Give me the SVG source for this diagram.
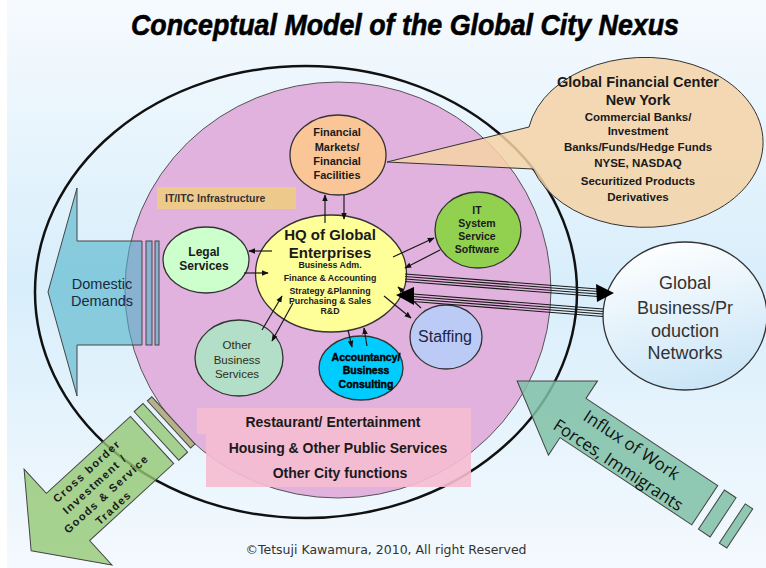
<svg xmlns="http://www.w3.org/2000/svg" width="766" height="568" viewBox="0 0 766 568">
<defs>
  <linearGradient id="bg" x1="0" y1="0" x2="0" y2="1">
    <stop offset="0" stop-color="#f6fafe"/>
    <stop offset="0.5" stop-color="#d8eefb"/>
    <stop offset="1" stop-color="#f4f9fe"/>
  </linearGradient>
  <linearGradient id="gbn" x1="0.3" y1="0" x2="0.6" y2="1">
    <stop offset="0" stop-color="#ffffff"/>
    <stop offset="1" stop-color="#c9e5f7"/>
  </linearGradient>
  <marker id="ah" viewBox="0 0 10 10" refX="9" refY="5" markerWidth="7" markerHeight="7" markerUnits="userSpaceOnUse" orient="auto">
    <path d="M0,1 L10,5 L0,9 z" fill="#111"/>
  </marker>
  <style>
    text { font-family: "Liberation Sans", Arial, sans-serif; fill: #1a1a1a; text-anchor: middle; }
    .b { font-weight: bold; }
    .node { stroke: #333; stroke-width: 1.3; }
    .conn line { stroke: #1a1a1a; stroke-width: 1.2; marker-end: url(#ah); }
    .bundle line { stroke: #1a1a1a; stroke-width: 1.1; }
    .bigarrow { stroke: #444; stroke-width: 1; }
  </style>
</defs>

<rect x="0" y="0" width="766" height="568" fill="#ffffff"/>
<rect x="7" y="0" width="759" height="568" fill="url(#bg)"/>

<g id="title">
  <text x="405" y="35" class="b" font-style="italic" font-size="30" textLength="548" lengthAdjust="spacingAndGlyphs" style="font-family:'Liberation Sans Narrow','Liberation Sans',Arial,sans-serif;fill:#000;stroke:#000;stroke-width:0.6">Conceptual Model of the Global City Nexus</text>
</g>

<g id="outer-city">
  <ellipse cx="306" cy="292" rx="271" ry="226" fill="none" stroke="#111" stroke-width="2.5"/>
</g>
<g id="inner-city">
  <ellipse cx="338" cy="290" rx="213" ry="208" fill="#e1b2dd" stroke="#555" stroke-width="1"/>
</g>

<g id="city-functions">
  <path d="M197,408 H471 V487 H206 V434 H197 Z" fill="#f6bcd0" opacity="0.9"/>
  <text x="333" y="427" class="b" font-size="14">Restaurant/ Entertainment</text>
  <text x="338" y="453" class="b" font-size="14">Housing &amp; Other Public Services</text>
  <text x="340" y="478" class="b" font-size="14">Other City functions</text>
</g>

<g id="it-infrastructure">
  <rect x="157" y="187" width="139" height="22" fill="#eec98c"/>
  <text x="165" y="202" class="b" font-size="10.5" style="text-anchor:start;fill:#333">IT/ITC  Infrastructure</text>
</g>

<g id="gfc-callout">
  <path d="M387,162 L529,127 A118,85 0 1 1 533,169 Z" fill="#f5d2a6" fill-opacity="0.85" stroke="#333" stroke-width="1"/>
  <text x="638" y="87" class="b" font-size="14.5">Global Financial Center</text>
  <text x="638" y="105" class="b" font-size="14.5">New York</text>
  <text x="638" y="121" class="b" font-size="11.5">Commercial Banks/</text>
  <text x="638" y="135" class="b" font-size="11.5">Investment</text>
  <text x="638" y="151" class="b" font-size="11.5">Banks/Funds/Hedge Funds</text>
  <text x="638" y="167" class="b" font-size="11.5">NYSE, NASDAQ</text>
  <text x="638" y="185" class="b" font-size="11.5">Securitized Products</text>
  <text x="638" y="201" class="b" font-size="11.5">Derivatives</text>
</g>

<g id="financial-markets">
  <ellipse class="node" cx="338" cy="155" rx="48" ry="40" fill="#fbc697"/>
  <text x="337" y="136" class="b" font-size="11">Financial</text>
  <text x="337" y="151" class="b" font-size="11">Markets/</text>
  <text x="337" y="165" class="b" font-size="11">Financial</text>
  <text x="337" y="179" class="b" font-size="11">Facilities</text>
</g>

<g id="hq">
  <ellipse class="node" cx="331" cy="273.5" rx="75.5" ry="58.5" fill="#ffff99" stroke-width="1.5"/>
  <text x="330" y="240" class="b" font-size="15">HQ of Global</text>
  <text x="330" y="258" class="b" font-size="15">Enterprises</text>
  <text x="330" y="268" class="b" font-size="8.8">Business Adm.</text>
  <text x="330" y="281" class="b" font-size="8.8">Finance &amp; Accounting</text>
  <text x="330" y="294" class="b" font-size="8.8">Strategy &amp;Planning</text>
  <text x="330" y="304" class="b" font-size="8.8">Purchasing &amp; Sales</text>
  <text x="330" y="314" class="b" font-size="8.8">R&amp;D</text>
</g>

<g id="legal">
  <ellipse class="node" cx="206" cy="260" rx="43" ry="33" fill="#ccffcc"/>
  <text x="204" y="256" class="b" font-size="12">Legal</text>
  <text x="204" y="270" class="b" font-size="12">Services</text>
</g>

<g id="it-system">
  <ellipse class="node" cx="478" cy="230" rx="43" ry="38" fill="#92d050"/>
  <text x="477" y="214" class="b" font-size="10.5">IT</text>
  <text x="477" y="227" class="b" font-size="10.5">System</text>
  <text x="477" y="240" class="b" font-size="10.5">Service</text>
  <text x="477" y="253" class="b" font-size="10.5">Software</text>
</g>

<g id="staffing">
  <ellipse class="node" cx="446" cy="337" rx="36" ry="32" fill="#bccbf5"/>
  <text x="445" y="342" font-size="16" style="fill:#1c2444">Staffing</text>
</g>

<g id="other-business">
  <ellipse class="node" cx="239" cy="358" rx="44" ry="38" fill="#b3dec8"/>
  <text x="237" y="349" font-size="11.5" style="fill:#2e2e14">Other</text>
  <text x="237" y="364" font-size="11.5" style="fill:#2e2e14">Business</text>
  <text x="237" y="378" font-size="11.5" style="fill:#2e2e14">Services</text>
</g>

<g id="accountancy">
  <ellipse class="node" cx="361" cy="368" rx="42" ry="32" fill="#00ccff" stroke="#1a2440" stroke-width="2"/>
  <text x="366" y="361" class="b" font-size="10.5" style="fill:#000;stroke:#000;stroke-width:0.4">Accountancy/</text>
  <text x="366" y="374" class="b" font-size="10.5" style="fill:#000;stroke:#000;stroke-width:0.4">Business</text>
  <text x="366" y="388" class="b" font-size="10.5" style="fill:#000;stroke:#000;stroke-width:0.4">Consulting</text>
</g>

<g id="global-networks">
  <ellipse class="node" cx="685" cy="316" rx="82" ry="74" fill="url(#gbn)" stroke-width="1.2"/>
  <text x="685" y="289" font-size="18" style="fill:#333">Global</text>
  <text x="685" y="314" font-size="18" style="fill:#333">Business/Pr</text>
  <text x="685" y="337" font-size="18" style="fill:#333">oduction</text>
  <text x="685" y="359" font-size="18" style="fill:#333">Networks</text>
</g>

<g id="domestic-demands">
  <path class="bigarrow" d="M48,292 L77,188 L77,241 L142,241 L142,345 L77,345 L77,396 Z" fill="#4fb2c9" fill-opacity="0.6"/>
  <rect class="bigarrow" x="146" y="241" width="6" height="104" fill="#4fb2c9" fill-opacity="0.6"/>
  <rect class="bigarrow" x="155" y="241" width="4" height="104" fill="#4fb2c9" fill-opacity="0.6"/>
  <text x="102" y="289" font-size="14.5" style="fill:#1e2840">Domestic</text>
  <text x="102" y="306" font-size="14.5" style="fill:#1e2840">Demands</text>
</g>

<g id="cross-border">
  <g transform="translate(68,517) rotate(137.5)">
    <path class="bigarrow" d="M50,0 L0,-65 L0,-32 L-114,-32 L-114,32 L0,32 L0,65 Z" fill="#93c873" fill-opacity="0.8"/>
    <rect class="bigarrow" x="-132" y="-33" width="12" height="66" fill="#93c873" fill-opacity="0.8"/>
    <rect class="bigarrow" x="-143" y="-32" width="6" height="64" fill="#b5b28a"/>
  </g>
  <g transform="translate(100,490) rotate(-42.5)">
    <text x="3" y="-19" class="b" font-size="11" letter-spacing="1.5">Cross border</text>
    <text x="0" y="-4" class="b" font-size="11" letter-spacing="1.5">Investment /</text>
    <text x="2" y="11" class="b" font-size="11" letter-spacing="1.5">Goods &amp; Service</text>
    <text x="-2" y="26" class="b" font-size="11" letter-spacing="1.5">Trades</text>
  </g>
</g>

<g id="influx">
  <g transform="translate(573,418) rotate(213.5)">
    <path class="bigarrow" d="M67,0 L0,-44.5 L0,-23.5 L-158,-23.5 L-158,23.5 L0,23.5 L0,44.5 Z" fill="#7fbfa6" fill-opacity="0.85"/>
    <rect class="bigarrow" x="-180" y="-23.5" width="14" height="47" fill="#7fbfa6" fill-opacity="0.85"/>
    <rect class="bigarrow" x="-200" y="-23.5" width="9" height="47" fill="#7fbfa6" fill-opacity="0.85"/>
  </g>
  <g transform="translate(625,455) rotate(33.5)">
    <text x="0" y="-6" font-size="17" style="font-family:'Open Sans','Liberation Sans',sans-serif;fill:#111">Influx of Work</text>
    <text x="0" y="18" font-size="17" style="font-family:'Open Sans','Liberation Sans',sans-serif;fill:#111">Forces, Immigrants</text>
  </g>
</g>

<g id="connectors">
  <g class="conn">
    <line x1="325" y1="223" x2="325" y2="195"/>
    <line x1="344" y1="195" x2="344" y2="219"/>
    <line x1="272" y1="251" x2="249" y2="251"/>
    <line x1="244" y1="273" x2="268" y2="273"/>
    <line x1="393" y1="257" x2="434" y2="238"/>
    <line x1="440" y1="250" x2="405" y2="268"/>
    <line x1="384" y1="296" x2="411" y2="318"/>
    <line x1="421" y1="308" x2="398" y2="287"/>
    <line x1="262" y1="330" x2="282" y2="296"/>
    <line x1="293" y1="303" x2="272" y2="341"/>
    <line x1="348" y1="330" x2="352" y2="347"/>
    <line x1="367" y1="346" x2="364" y2="328"/>
  </g>
  <g class="bundle">
    <line x1="405" y1="274" x2="598" y2="289"/>
    <line x1="405" y1="276.5" x2="598" y2="291.5"/>
    <line x1="405" y1="279" x2="598" y2="294"/>
    <line x1="405" y1="281.5" x2="598" y2="296.5"/>
    <path d="M614,293 L596,284 L597,302 Z" fill="#000"/>
    <line x1="413" y1="294" x2="603" y2="309"/>
    <line x1="413" y1="296.5" x2="603" y2="311.5"/>
    <line x1="413" y1="299" x2="603" y2="314"/>
    <line x1="413" y1="301.5" x2="603" y2="316.5"/>
    <path d="M396,295 L414,287 L414,305 Z" fill="#000"/>
  </g>
</g>

<g id="copyright">
  <text x="386" y="554" font-size="12.5" style="font-family:'DejaVu Sans',sans-serif;fill:#333">©Tetsuji Kawamura, 2010, All right Reserved</text>
</g>
</svg>
